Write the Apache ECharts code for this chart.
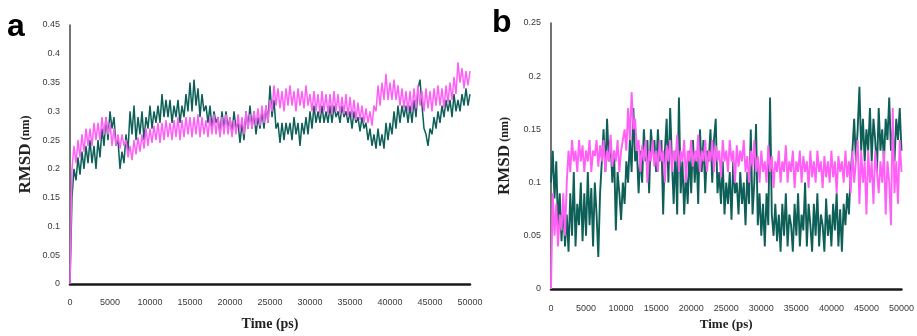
<!DOCTYPE html>
<html>
<head>
<meta charset="utf-8">
<script src="https://cdn.jsdelivr.net/npm/echarts@6/dist/echarts.min.js"></script>
<style>html,body{margin:0;padding:0;background:#fff}#c{width:917px;height:336px}</style>
</head>
<body>
<div id="c"></div>
<script>
// Sampling step of the trajectories (ps)
const STEP = 250;
const xTicks = [0,5000,10000,15000,20000,25000,30000,35000,40000,45000,50000];
const yTicksA = [0,0.05,0.1,0.15,0.2,0.25,0.3,0.35,0.4,0.45];
const yTicksB = [0,0.05,0.1,0.15,0.2,0.25];

// Panel a, dark teal series (RMSD nm)
const aTeal = [
0,0.15,0.20,0.18,0.22,0.19,0.23,0.20,0.24,0.21,
0.25,0.21,0.24,0.20,0.25,0.22,0.27,0.24,0.29,0.25,
0.30,0.27,0.29,0.24,0.25,0.20,0.23,0.21,0.26,0.23,
0.30,0.26,0.31,0.25,0.29,0.26,0.30,0.25,0.29,0.27,
0.31,0.27,0.30,0.28,0.31,0.28,0.33,0.29,0.32,0.29,
0.32,0.28,0.31,0.29,0.32,0.28,0.31,0.29,0.33,0.30,
0.35,0.30,0.355,0.31,0.34,0.29,0.33,0.30,0.31,0.28,
0.31,0.27,0.30,0.28,0.29,0.26,0.30,0.27,0.30,0.27,
0.29,0.26,0.30,0.27,0.28,0.245,0.28,0.25,0.30,0.27,
0.31,0.27,0.30,0.26,0.29,0.27,0.30,0.27,0.31,0.28,
0.345,0.29,0.32,0.27,0.28,0.245,0.28,0.25,0.28,0.26,
0.28,0.25,0.29,0.26,0.28,0.24,0.28,0.26,0.29,0.26,
0.30,0.27,0.31,0.28,0.30,0.28,0.31,0.28,0.30,0.28,
0.31,0.28,0.31,0.29,0.30,0.28,0.31,0.29,0.30,0.28,
0.30,0.27,0.30,0.28,0.29,0.265,0.29,0.27,0.28,0.25,
0.27,0.24,0.26,0.235,0.27,0.24,0.26,0.235,0.28,0.25,
0.28,0.26,0.30,0.27,0.31,0.28,0.31,0.29,0.31,0.28,
0.31,0.28,0.32,0.29,0.34,0.355,0.31,0.27,0.26,0.24,
0.27,0.26,0.29,0.27,0.30,0.28,0.31,0.29,0.32,0.30,
0.32,0.29,0.33,0.30,0.32,0.30,0.33,0.31,0.34,0.31,
0.33];
// Panel a, magenta series
const aPink = [
0,0.20,0.24,0.21,0.25,0.22,0.26,0.23,0.27,0.24,
0.27,0.24,0.28,0.25,0.28,0.25,0.29,0.26,0.29,0.26,
0.28,0.24,0.27,0.24,0.26,0.235,0.26,0.24,0.25,0.22,
0.24,0.215,0.25,0.225,0.255,0.23,0.26,0.235,0.27,0.24,
0.27,0.245,0.275,0.25,0.28,0.245,0.28,0.25,0.285,0.255,
0.28,0.25,0.285,0.255,0.29,0.25,0.285,0.255,0.29,0.26,
0.29,0.255,0.29,0.26,0.295,0.255,0.29,0.26,0.285,0.255,
0.29,0.26,0.295,0.26,0.29,0.255,0.29,0.26,0.295,0.26,
0.29,0.255,0.285,0.26,0.295,0.265,0.29,0.26,0.30,0.27,
0.295,0.27,0.30,0.275,0.305,0.275,0.31,0.28,0.31,0.28,
0.32,0.30,0.345,0.31,0.34,0.305,0.335,0.30,0.34,0.31,
0.345,0.31,0.335,0.30,0.34,0.31,0.335,0.305,0.345,0.31,
0.33,0.30,0.335,0.30,0.33,0.295,0.335,0.30,0.33,0.295,
0.33,0.295,0.335,0.30,0.33,0.295,0.325,0.295,0.33,0.29,
0.325,0.29,0.32,0.285,0.315,0.285,0.31,0.28,0.305,0.28,
0.30,0.275,0.31,0.30,0.345,0.31,0.35,0.32,0.365,0.32,
0.35,0.32,0.355,0.32,0.345,0.31,0.34,0.305,0.335,0.30,
0.335,0.30,0.34,0.305,0.345,0.31,0.335,0.30,0.34,0.305,
0.335,0.30,0.34,0.31,0.345,0.31,0.34,0.305,0.345,0.315,
0.35,0.32,0.36,0.33,0.385,0.35,0.375,0.34,0.37,0.345,
0.37];
// Panel b, dark teal series
const bTeal = [
0.10,0.13,0.085,0.12,0.06,0.09,0.045,0.08,0.04,0.07,
0.035,0.09,0.05,0.11,0.04,0.08,0.06,0.10,0.045,0.09,
0.05,0.11,0.06,0.095,0.04,0.10,0.07,0.03,0.09,0.12,
0.15,0.11,0.16,0.12,0.14,0.10,0.13,0.055,0.11,0.09,
0.065,0.10,0.08,0.12,0.10,0.14,0.11,0.17,0.12,0.13,
0.09,0.13,0.10,0.15,0.12,0.14,0.09,0.15,0.13,0.14,
0.11,0.15,0.12,0.14,0.07,0.13,0.16,0.10,0.17,0.12,
0.08,0.13,0.07,0.18,0.09,0.12,0.07,0.11,0.08,0.13,
0.09,0.14,0.10,0.13,0.08,0.15,0.11,0.14,0.09,0.13,
0.12,0.15,0.10,0.14,0.16,0.09,0.11,0.08,0.12,0.07,
0.10,0.08,0.11,0.065,0.12,0.09,0.10,0.07,0.11,0.08,
0.10,0.06,0.11,0.08,0.15,0.07,0.10,0.155,0.06,0.09,
0.05,0.08,0.04,0.09,0.06,0.18,0.07,0.05,0.08,0.045,
0.07,0.035,0.08,0.05,0.09,0.04,0.07,0.06,0.035,0.08,
0.05,0.09,0.04,0.07,0.055,0.10,0.04,0.08,0.06,0.035,
0.08,0.05,0.09,0.04,0.07,0.06,0.035,0.085,0.05,0.07,
0.04,0.08,0.055,0.09,0.04,0.075,0.035,0.08,0.06,0.09,
0.07,0.11,0.13,0.16,0.12,0.15,0.19,0.13,0.16,0.12,
0.15,0.13,0.17,0.12,0.16,0.14,0.11,0.17,0.13,0.15,
0.12,0.16,0.14,0.18,0.13,0.15,0.12,0.16,0.14,0.17,
0.13];
// Panel b, magenta series
const bPink = [
0,0.09,0.05,0.08,0.04,0.07,0.055,0.09,0.05,0.10,
0.13,0.11,0.14,0.12,0.13,0.11,0.14,0.12,0.135,0.11,
0.13,0.12,0.14,0.11,0.13,0.125,0.14,0.115,0.135,0.12,
0.14,0.11,0.13,0.12,0.145,0.115,0.13,0.12,0.14,0.11,
0.13,0.14,0.15,0.13,0.17,0.14,0.185,0.15,0.16,0.13,
0.14,0.11,0.135,0.12,0.14,0.10,0.13,0.12,0.14,0.115,
0.13,0.11,0.14,0.12,0.13,0.10,0.135,0.12,0.14,0.11,
0.13,0.12,0.145,0.11,0.13,0.12,0.14,0.10,0.13,0.12,
0.14,0.115,0.13,0.12,0.145,0.11,0.13,0.12,0.14,0.11,
0.13,0.12,0.14,0.11,0.135,0.12,0.13,0.105,0.14,0.12,
0.13,0.11,0.14,0.12,0.13,0.10,0.135,0.115,0.13,0.12,
0.14,0.11,0.125,0.10,0.13,0.115,0.14,0.11,0.125,0.10,
0.13,0.11,0.12,0.10,0.135,0.11,0.125,0.095,0.12,0.11,
0.13,0.10,0.12,0.11,0.135,0.10,0.12,0.11,0.13,0.095,
0.12,0.11,0.13,0.10,0.125,0.11,0.12,0.095,0.13,0.105,
0.12,0.10,0.13,0.11,0.12,0.095,0.125,0.105,0.12,0.10,
0.13,0.105,0.12,0.09,0.125,0.11,0.12,0.10,0.13,0.105,
0.12,0.09,0.13,0.10,0.12,0.14,0.08,0.13,0.10,0.12,
0.07,0.13,0.10,0.12,0.08,0.13,0.11,0.09,0.12,0.10,
0.13,0.07,0.12,0.10,0.06,0.17,0.09,0.12,0.08,0.14,
0.11];

const TEAL = '#0e5f57';
const PINK = '#ff5ff6';
const pairs = arr => arr.map((v, i) => [i * STEP, v]);

const tickFont = {fontFamily: 'Liberation Sans', fontSize: 9, color: '#3a3a3a'};

function xAxis(gi, margin, gap, fs) {
  return {
    type: 'value', gridIndex: gi, min: xTicks[0], max: xTicks[xTicks.length - 1],
    interval: xTicks[1] - xTicks[0],
    name: 'Time (ps)', nameLocation: 'middle', nameGap: gap,
    nameTextStyle: {fontFamily: 'Liberation Serif', fontWeight: 'bold', fontSize: fs, color: '#222'},
    axisLine: {show: true, lineStyle: {color: '#1a1a1a', width: 2.5}},
    axisTick: {show: false}, splitLine: {show: false},
    axisLabel: Object.assign({margin: margin, formatter: v => String(v)}, tickFont)
  };
}
function yAxis(gi, ticks, gap) {
  return {
    type: 'value', gridIndex: gi, min: ticks[0], max: ticks[ticks.length - 1],
    interval: ticks[1] - ticks[0],
    name: '{m|RMSD} {u|(nm)}', nameLocation: 'middle', nameGap: gap, nameRotate: 90,
    nameTextStyle: {rich: {
      m: {fontFamily: 'Liberation Serif', fontWeight: 'bold', fontSize: 17, color: '#222'},
      u: {fontFamily: 'Liberation Serif', fontWeight: 'bold', fontSize: 12, color: '#222'}
    }},
    axisLine: {show: true, lineStyle: {color: '#444', width: 1.5}},
    axisTick: {show: false}, splitLine: {show: false},
    axisLabel: Object.assign({margin: 10, formatter: v => String(v)}, tickFont)
  };
}
function line(xi, data, color, z, w) {
  return {
    type: 'line', xAxisIndex: xi, yAxisIndex: xi, data: pairs(data),
    showSymbol: false, symbol: 'none', sampling: null, z: z,
    lineStyle: {color: color, width: w, join: 'bevel'}, itemStyle: {color: color}
  };
}

const chart = echarts.init(document.getElementById('c'), null, {renderer: 'canvas'});
chart.setOption({
  animation: false,
  backgroundColor: '#fff',
  title: [
    {text: 'a', left: 7, top: 11, padding: 0, textStyle: {fontFamily: 'Liberation Sans', fontWeight: 'bold', fontSize: 32, color: '#000'}},
    {text: 'b', left: 492, top: 7, padding: 0, textStyle: {fontFamily: 'Liberation Sans', fontWeight: 'bold', fontSize: 32, color: '#000'}}
  ],
  grid: [
    {left: 70, top: 25, width: 400, height: 264},
    {left: 551, top: 23, width: 351, height: 270}
  ],
  xAxis: [xAxis(0, 14, 33, 14), xAxis(1, 15, 29, 13)],
  yAxis: [yAxis(0, yTicksA, 36), yAxis(1, yTicksB, 38)],
  series: [
    line(0, aTeal, TEAL, 2, 1.5), line(0, aPink, PINK, 3, 1.5),
    line(1, bTeal, TEAL, 2, 1.9), line(1, bPink, PINK, 3, 1.9)
  ]
});
</script>
</body>
</html>
